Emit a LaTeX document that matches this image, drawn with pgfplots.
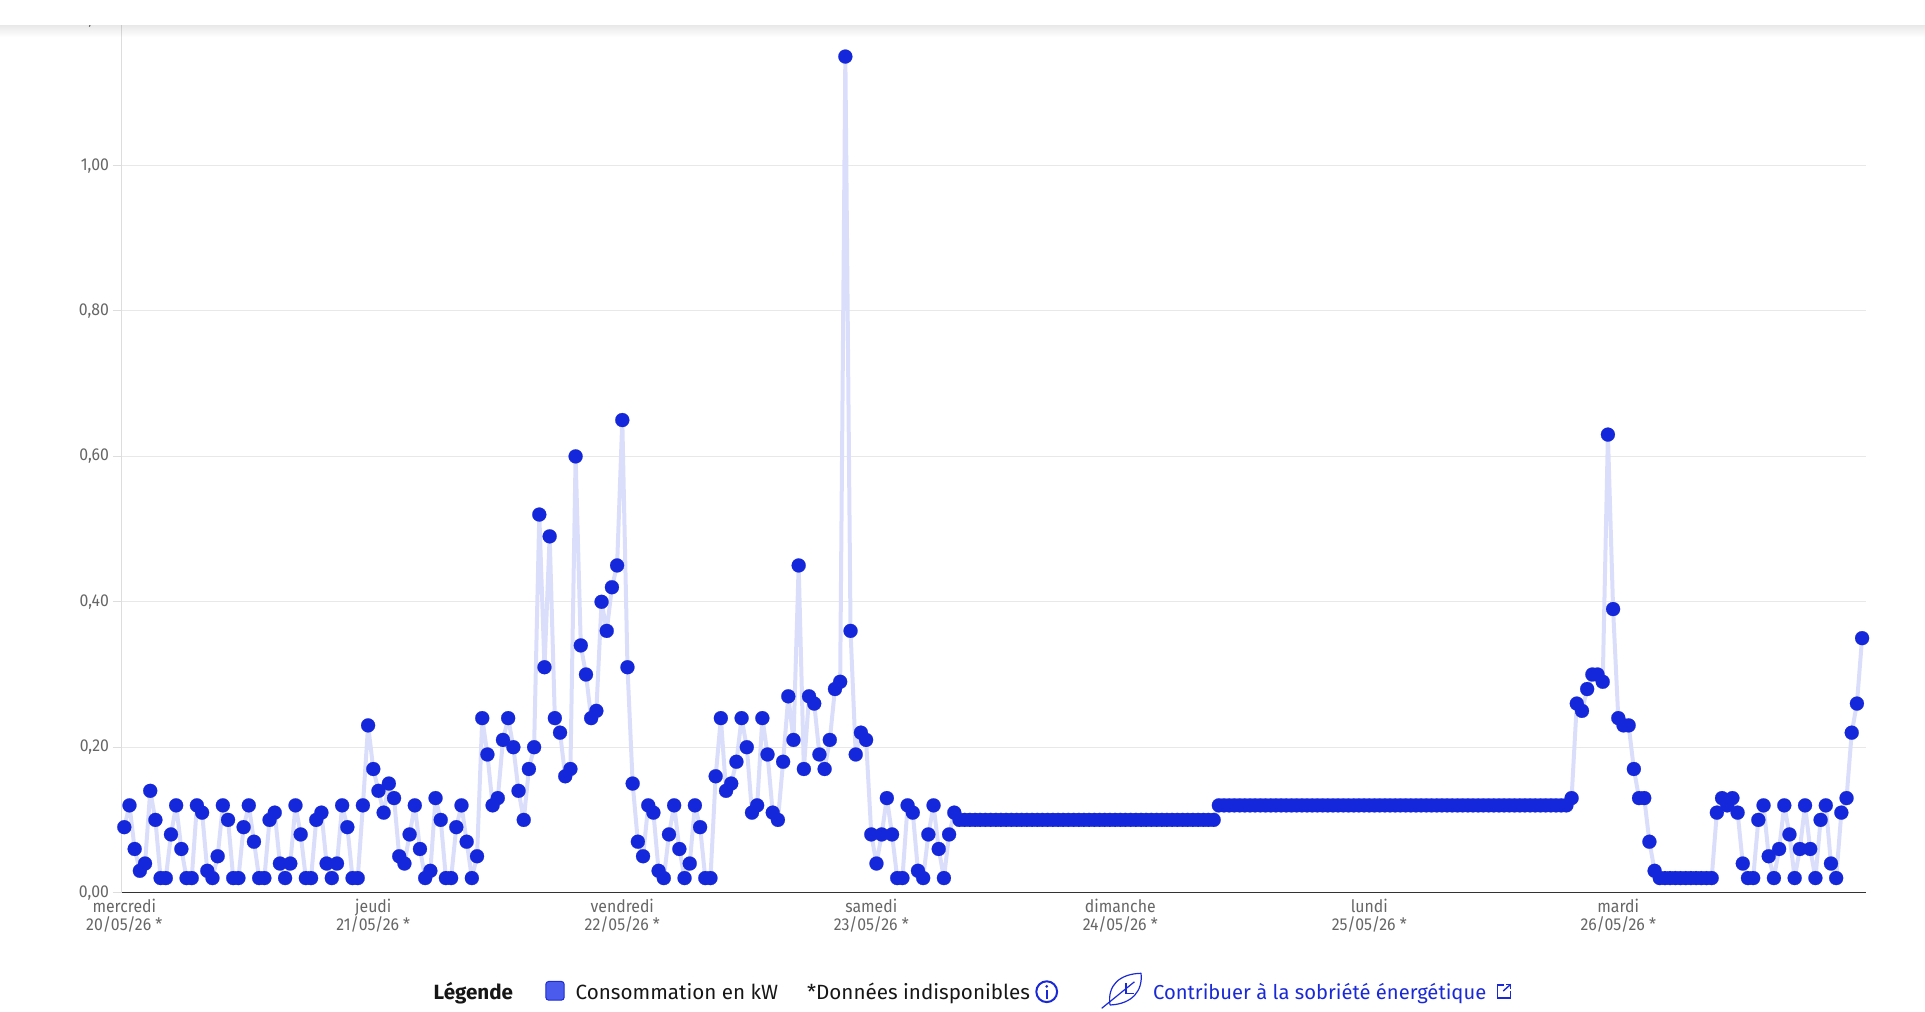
\documentclass[border=0pt]{standalone}
\usepackage{fontspec}
\setmainfont{Fira Sans}
\newfontfamily\condfont[FakeStretch=0.92]{Fira Sans}
\usepackage{pgfplots}
\pgfplotsset{compat=1.18}
\usepackage{pgfplotstable}

\definecolor{ptblue}{HTML}{1527DA}
\definecolor{lnblue}{HTML}{DADEFA}
\definecolor{gridgray}{HTML}{E8E8E8}
\definecolor{yaxgray}{HTML}{DDDDDD}
\definecolor{axisdark}{HTML}{333333}
\definecolor{ticklab}{HTML}{666666}
\definecolor{txtblack}{HTML}{161616}
\definecolor{linkblue}{HTML}{1A29D6}
\definecolor{sqfill}{HTML}{4B5BEB}
\definecolor{sqdraw}{HTML}{1C2BD5}

% Consommation en kW, one value per half hour, 20/05/26 00:00 -> 26/05/26 23:30
\pgfplotstableread[row sep=\\]{
v\\
0.09\\0.12\\0.06\\0.03\\0.04\\0.14\\0.10\\0.02\\0.02\\0.08\\
0.12\\0.06\\0.02\\0.02\\0.12\\0.11\\0.03\\0.02\\0.05\\0.12\\
0.10\\0.02\\0.02\\0.09\\0.12\\0.07\\0.02\\0.02\\0.10\\0.11\\
0.04\\0.02\\0.04\\0.12\\0.08\\0.02\\0.02\\0.10\\0.11\\0.04\\
0.02\\0.04\\0.12\\0.09\\0.02\\0.02\\0.12\\0.23\\
0.17\\0.14\\0.11\\0.15\\0.13\\0.05\\0.04\\0.08\\0.12\\0.06\\
0.02\\0.03\\0.13\\0.10\\0.02\\0.02\\0.09\\0.12\\0.07\\0.02\\
0.05\\0.24\\0.19\\0.12\\0.13\\0.21\\0.24\\0.20\\0.14\\0.10\\
0.17\\0.20\\0.52\\0.31\\0.49\\0.24\\0.22\\0.16\\0.17\\0.60\\
0.34\\0.30\\0.24\\0.25\\0.40\\0.36\\0.42\\0.45\\
0.65\\0.31\\0.15\\0.07\\0.05\\0.12\\0.11\\0.03\\0.02\\0.08\\
0.12\\0.06\\0.02\\0.04\\0.12\\0.09\\0.02\\0.02\\0.16\\0.24\\
0.14\\0.15\\0.18\\0.24\\0.20\\0.11\\0.12\\0.24\\0.19\\0.11\\
0.10\\0.18\\0.27\\0.21\\0.45\\0.17\\0.27\\0.26\\0.19\\0.17\\
0.21\\0.28\\0.29\\1.15\\0.36\\0.19\\0.22\\0.21\\
0.08\\0.04\\0.08\\0.13\\0.08\\0.02\\0.02\\0.12\\0.11\\0.03\\
0.02\\0.08\\0.12\\0.06\\0.02\\0.08\\0.11\\
0.10\\0.10\\0.10\\0.10\\0.10\\0.10\\0.10\\0.10\\0.10\\0.10\\
0.10\\0.10\\0.10\\0.10\\0.10\\0.10\\0.10\\0.10\\0.10\\0.10\\
0.10\\0.10\\0.10\\0.10\\0.10\\0.10\\0.10\\0.10\\0.10\\0.10\\
0.10\\0.10\\0.10\\0.10\\0.10\\0.10\\0.10\\0.10\\0.10\\0.10\\
0.10\\0.10\\0.10\\0.10\\0.10\\0.10\\0.10\\0.10\\0.10\\0.10\\
0.12\\0.12\\0.12\\0.12\\0.12\\0.12\\0.12\\0.12\\0.12\\0.12\\
0.12\\0.12\\0.12\\0.12\\0.12\\0.12\\0.12\\0.12\\0.12\\0.12\\
0.12\\0.12\\0.12\\0.12\\0.12\\0.12\\0.12\\0.12\\0.12\\0.12\\
0.12\\0.12\\0.12\\0.12\\0.12\\0.12\\0.12\\0.12\\0.12\\0.12\\
0.12\\0.12\\0.12\\0.12\\0.12\\0.12\\0.12\\0.12\\0.12\\0.12\\
0.12\\0.12\\0.12\\0.12\\0.12\\0.12\\0.12\\0.12\\0.12\\0.12\\
0.12\\0.12\\0.12\\0.12\\0.12\\0.12\\0.12\\0.12\\
0.13\\0.26\\0.25\\0.28\\0.30\\0.30\\0.29\\0.63\\0.39\\
0.24\\0.23\\0.23\\0.17\\0.13\\0.13\\0.07\\0.03\\
0.02\\0.02\\0.02\\0.02\\0.02\\0.02\\0.02\\0.02\\0.02\\0.02\\0.02\\
0.11\\0.13\\0.12\\0.13\\0.11\\0.04\\0.02\\0.02\\0.10\\0.12\\
0.05\\0.02\\0.06\\0.12\\0.08\\0.02\\0.06\\0.12\\0.06\\0.02\\
0.10\\0.12\\0.04\\0.02\\0.11\\0.13\\0.22\\0.26\\0.35\\
}\data

\begin{document}
\begin{tikzpicture}
\path[use as bounding box] (0,0) rectangle (962.5pt,505.5pt);
\begin{axis}[
  at={(60.85pt,59.2pt)}, anchor=south west,
  width=872pt, height=436.2pt, scale only axis,
  xmin=-0.5, xmax=335.7, ymin=0, ymax=1.2,
  clip=false,
  axis x line=bottom, axis y line=left,
  x axis line style={-, draw=axisdark, line width=0.75pt},
  y axis line style={-, draw=yaxgray, line width=0.5pt},
  ymajorgrids, grid style={draw=gridgray, line width=0.5pt},
  ytick={0,0.2,0.4,0.6,0.8,1.0,1.2},
  scaled y ticks=false,
  /pgf/number format/fixed, /pgf/number format/fixed zerofill,
  /pgf/number format/precision=2, /pgf/number format/use comma,
  /pgf/number format/assume math mode=true,
  tick align=outside,
  major tick length=4.5pt,
  ytick style={draw=yaxgray, line width=0.5pt},
  xtick style={draw=none},
  yticklabel style={font=\condfont\fontsize{8.6}{10}\selectfont, text=ticklab, inner sep=0pt, xshift=-1.7pt},
  xtick={0,48,96,144,192,240,288},
  xticklabels={{mercredi\\20/05/26 *},{jeudi\\21/05/26 *},{vendredi\\22/05/26 *},{samedi\\23/05/26 *},{dimanche\\24/05/26 *},{lundi\\25/05/26 *},{mardi\\26/05/26 *}},
  xticklabel style={align=center, font=\condfont\fontsize{8.6}{9.2}\selectfont, text=ticklab, inner sep=0pt, yshift=1.6pt},
]
\addplot[lnblue, line width=2pt, line join=round] table[x expr=\coordindex, y=v] {\data};
\addplot[ptblue, only marks, mark=*, mark size=3.5pt, mark options={draw=ptblue, fill=ptblue, line width=0.1pt}] table[x expr=\coordindex, y=v] {\data};
\end{axis}

% top header bar with shadow
\fill[white] (0pt,493pt) rectangle (962.5pt,505.6pt);
\foreach \k in {0,...,11}{
  \pgfmathsetmacro\op{0.09*(1-\k/12)}
  \fill[black, opacity=\op] (0pt,{493pt-\k*0.5pt}) rectangle (962.5pt,{492.5pt-\k*0.5pt});
}

% legend
\begin{scope}[every node/.style={inner sep=0pt, anchor=base west, text=txtblack, font=\fontsize{10.3}{12}\selectfont}]
\node at (216.65pt,5.8pt) {\bfseries Légende};
\filldraw[fill=sqfill, draw=sqdraw, line width=0.5pt, rounded corners=1.5pt] (272.9pt,5.4pt) rectangle (282.1pt,14.8pt);
\node at (287.65pt,5.8pt) {Consommation en kW};
\node at (403.35pt,5.8pt) {*Données indisponibles};
\draw[linkblue, line width=1pt] (523.35pt,9.65pt) circle (5.2pt);
\fill[linkblue] (523.35pt,12.3pt) circle (0.75pt);
\draw[linkblue, line width=1.1pt] (523.35pt,5.9pt) -- (523.35pt,10.4pt);
% leaf icon
\draw[linkblue, line width=0.6pt, line join=round] (555pt,3pt) .. controls (553.5pt,13pt) and (560pt,18.6pt) .. (570.5pt,18.85pt) .. controls (571.5pt,10pt) and (566pt,3.5pt) .. (555pt,3pt);
\draw[linkblue, line width=0.6pt] (550.85pt,1.35pt) -- (567.2pt,14.6pt);
\draw[linkblue, line width=0.6pt] (563pt,13.85pt) -- (563pt,8.85pt) -- (566.8pt,8.85pt);
\node[text=linkblue, font=\fontsize{10.1}{12}\selectfont] at (576.35pt,5.8pt) {Contribuer à la sobriété énergétique};
% external link icon
\draw[linkblue, line width=0.7pt] (752pt,13pt) -- (748.6pt,13pt) -- (748.6pt,6.6pt) -- (755.1pt,6.6pt) -- (755.1pt,10pt);
\draw[linkblue, line width=0.7pt] (751.6pt,10pt) -- (755.3pt,13.3pt);
\draw[linkblue, line width=0.7pt] (753pt,13.3pt) -- (755.3pt,13.3pt) -- (755.3pt,11pt);
\end{scope}
\end{tikzpicture}
\end{document}
